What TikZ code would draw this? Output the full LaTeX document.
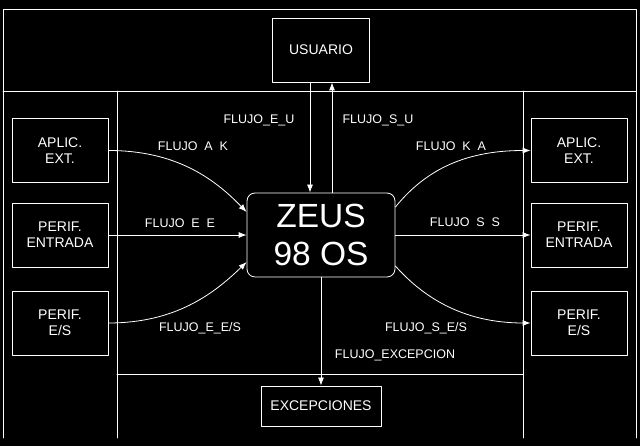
\documentclass[tikz,border=0pt]{standalone}
\usepackage{fontspec}
\setmainfont{Liberation Sans}
\usetikzlibrary{arrows.meta}
\begin{document}
\begin{tikzpicture}[line cap=round,line join=round, x=1pt,y=1pt,
  caja/.style={draw=white, line width=0.8pt, minimum width=96pt, minimum height=64pt, align=center, text=white, font=\fontsize{14}{16}\selectfont, inner sep=0pt},
  flujo/.style={draw=white, line width=0.8pt, -{Latex[length=8pt, width=6pt]}},
  etiqueta/.style={text=white, font=\fontsize{12.5}{14}\selectfont, inner sep=0pt, text height=9pt, text depth=0pt}]
\fill [black] (0,0) rectangle (640,446);
\useasboundingbox (0,0) rectangle (640,446);
\draw [white, line width=0.8pt] (3,8) -- (3,437) -- (636,437) -- (636,8);
\draw [white, line width=0.8pt] (3,355) -- (636,355);
\draw [white, line width=0.8pt] (117,8) -- (117,355);
\draw [white, line width=0.8pt] (523,8) -- (523,355);
\draw [white, line width=0.8pt] (117,72) -- (523,72);
\node [caja, minimum width=97pt] (usuario) at (321,396) {USUARIO};
\node [caja, minimum width=148pt, minimum height=84pt, rounded corners=8pt, font=\fontsize{33.5}{38}\selectfont] (zeus) at (321,211) {ZEUS\\98 OS};
\node [caja, minimum width=120pt, minimum height=40pt] (excep) at (321,40) {EXCEPCIONES};
\node [caja] (aplicIn) at (60,295.5) {APLIC.\\EXT.};
\node [caja] (perifIn) at (60,211) {PERIF.\\ENTRADA};
\node [caja] (esIn) at (60,123) {PERIF.\\E/S};
\node [caja] (aplicOut) at (579,295.5) {APLIC.\\EXT.};
\node [caja] (perifOut) at (579,211) {PERIF.\\ENTRADA};
\node [caja] (esOut) at (579,123) {PERIF.\\E/S};
\draw [flujo] ([xshift=-11pt]usuario.south) -- ([xshift=-11pt]zeus.north);
\draw [flujo] ([xshift=11pt]zeus.north) -- ([xshift=11pt]usuario.south);
\draw [flujo] (aplicIn.east) .. controls +(67,0) and +(-33,34) .. ([yshift=23pt]zeus.west);
\draw [flujo] (perifIn.east) -- (zeus.west);
\draw [flujo] (esIn.east) .. controls +(67,0) and +(-33,-32) .. ([yshift=-27pt]zeus.west);
\draw [flujo] ([yshift=28pt]zeus.east) .. controls +(27,33) and +(-71,0) .. (aplicOut.west);
\draw [flujo] (zeus.east) -- (perifOut.west);
\draw [flujo] ([yshift=-31pt]zeus.east) .. controls +(25,-28) and +(-71,0) .. (esOut.west);
\draw [flujo] (zeus.south) -- (excep.north);
\node [etiqueta] (lblEU) at (259,327) {FLUJO\_E\_U};
\node [etiqueta] (lblSU) at (378,327) {FLUJO\_S\_U};
\node [etiqueta] (lblAK) at (193,300) {FLUJO\ \ A\ \ K};
\node [etiqueta] (lblKA) at (451,300) {FLUJO\ \ K\ \ A};
\node [etiqueta] (lblEE) at (180,223) {FLUJO\ \ E\ \ E};
\node [etiqueta] (lblSS) at (465,224) {FLUJO\ \ S\ \ S};
\node [etiqueta] (lblEES) at (200,119) {FLUJO\_E\_E/S};
\node [etiqueta] (lblSES) at (426,119) {FLUJO\_S\_E/S};
\node [etiqueta] (lblEX) at (395,92) {FLUJO\_EXCEPCION};
\end{tikzpicture}
\end{document}
